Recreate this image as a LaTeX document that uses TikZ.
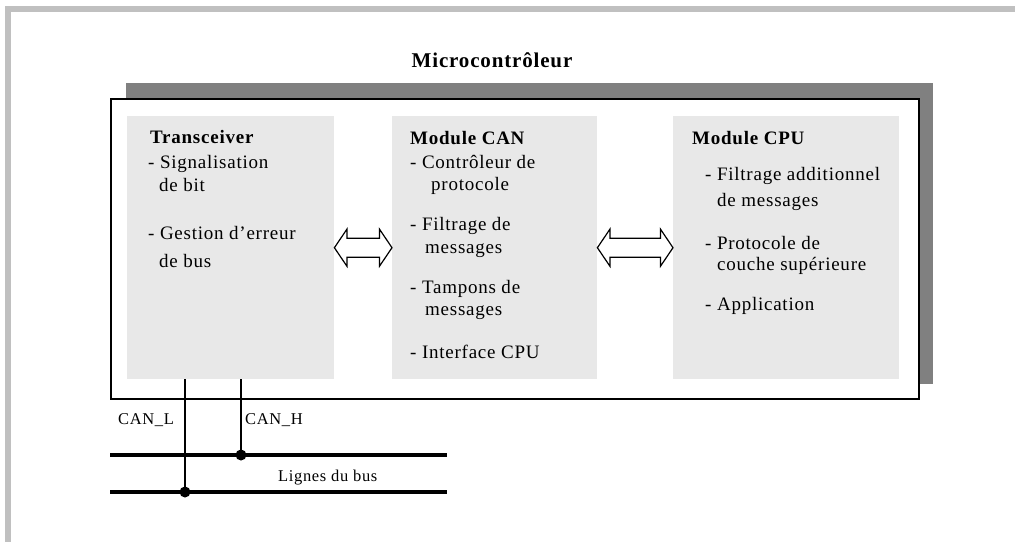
\documentclass[tikz,border=0pt]{standalone}
\usepackage{fontspec}
\setmainfont{Liberation Serif}[LetterSpace=4]
\usetikzlibrary{calc}
\definecolor{framegray}{HTML}{C0C0C0}
\definecolor{shadowgray}{HTML}{808080}
\definecolor{modfill}{HTML}{E8E8E8}

% hollow two-headed arrow between the facing sides of two modules
\newcommand{\hollowlink}[2]{%
  \draw[dblarrow] (#1) -- ($(#1)+(12.5,-18.5)$) -- ($(#1)+(12.5,-9.5)$)
    -- ($(#2)+(-12.5,-9.5)$) -- ($(#2)+(-12.5,-18.5)$) -- (#2)
    -- ($(#2)+(-12.5,18.5)$) -- ($(#2)+(-12.5,9.5)$)
    -- ($(#1)+(12.5,9.5)$) -- ($(#1)+(12.5,18.5)$) -- cycle;}

\begin{document}
\begin{tikzpicture}[x=1pt,y=-1pt,
  module/.style={fill=modfill, draw=none, inner sep=0pt, anchor=north west},
  txt/.style={anchor=base west, inner sep=0pt, font=\fontsize{19}{23}\selectfont},
  ttl/.style={anchor=base west, inner sep=0pt, font=\fontsize{19}{23}\selectfont\bfseries},
  buslbl/.style={anchor=base west, inner sep=0pt, font=\fontsize{16.5}{19}\selectfont},
  bus/.style={line width=4pt},
  tap/.style={line width=1.3pt},
  junction/.style={circle, fill=black, inner sep=0pt, minimum size=11pt},
  dblarrow/.style={draw=black, line width=1.2pt, fill=white, line join=miter}
]
\useasboundingbox (0,0) rectangle (1015,542);

% page frame
\fill[framegray] (5,6) rectangle (1015,12);
\fill[framegray] (5,6) rectangle (10.5,542);

% microcontroller: drop shadow and white box
\fill[shadowgray] (126,83) rectangle (933,384);
\node[draw, line width=2pt, fill=white, inner sep=0pt, anchor=north west,
      minimum width=808pt, minimum height=300pt] (mcu) at (110,98) {};
\node[anchor=base, inner sep=0pt, font=\fontsize{21}{25}\selectfont\bfseries]
      (title) at (492,67) {Microcontrôleur};

% the three modules
\node[module, minimum width=207pt, minimum height=263pt] (trans) at (127,116) {};
\node[module, minimum width=205pt, minimum height=263pt] (can) at (392,116) {};
\node[module, minimum width=226pt, minimum height=263pt] (cpu) at (673,116) {};

% Transceiver
\node[ttl] (t0) at (150,143) {Transceiver};
\node[txt] (t1) at (148,168) {- Signalisation};
\node[txt] (t2) at (159,191) {de bit};
\node[txt] (t3) at (148,239) {- Gestion d’erreur};
\node[txt] (t4) at (159,267) {de bus};

% Module CAN
\node[ttl] (c0) at (410,144) {Module CAN};
\node[txt] (c1) at (410,168) {- Contrôleur de};
\node[txt] (c2) at (431,190.5) {protocole};
\node[txt] (c3) at (410,230) {- Filtrage de};
\node[txt] (c4) at (425,253) {messages};
\node[txt] (c5) at (410,293) {- Tampons de};
\node[txt] (c6) at (425,315.5) {messages};
\node[txt] (c7) at (410,358.5) {- Interface CPU};

% Module CPU
\node[ttl] (p0) at (692,144) {Module CPU};
\node[txt] (p1) at (705,180.5) {- Filtrage additionnel};
\node[txt] (p2) at (717,206.5) {de messages};
\node[txt] (p3) at (705,249) {- Protocole de};
\node[txt] (p4) at (717,270.5) {couche supérieure};
\node[txt] (p5) at (705,310.5) {- Application};

% links between modules
\hollowlink{trans.east}{can.west}
\hollowlink{can.east}{cpu.west}

% bus lines and the two taps
\coordinate (busH0) at (110,455);
\coordinate (busH1) at (447,455);
\coordinate (busL0) at (110,492);
\coordinate (busL1) at (447,492);
\draw[bus] (busH0) -- (busH1);
\draw[bus] (busL0) -- (busL1);
\node[junction] (jH) at (241,455) {};
\node[junction] (jL) at (185,492) {};
\draw[tap] (jH.center |- trans.south) -- (jH.center);
\draw[tap] (jL.center |- trans.south) -- (jL.center);

\node[buslbl] (lblL) at (118,424) {CAN\_L};
\node[buslbl] (lblH) at (245,424) {CAN\_H};
\node[buslbl] (lblbus) at (278,481) {Lignes du bus};
\end{tikzpicture}
\end{document}
